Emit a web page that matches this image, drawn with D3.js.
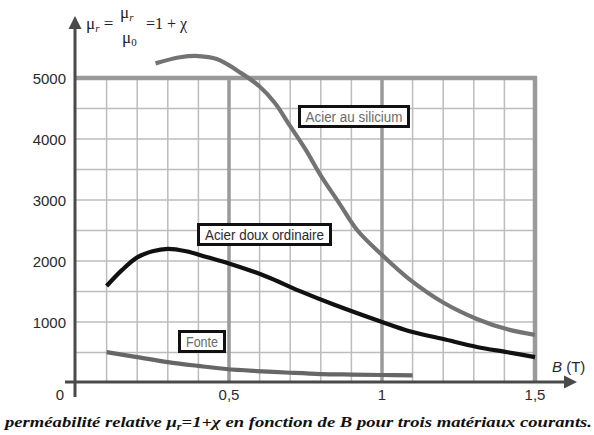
<!DOCTYPE html>
<html>
<head>
<meta charset="utf-8">
<script src="https://cdn.jsdelivr.net/npm/d3@7"></script>
<style>
  body { margin: 0; background: #fff; }
  svg { display: block; }
</style>
</head>
<body>
<div id="chartplot"></div>
<script>
// values (B in tesla, mu_r)
var siliciumB  = [0.26, 0.34, 0.40, 0.46, 0.54, 0.60, 0.65, 0.70, 0.75, 0.80, 0.86, 0.92, 1.00, 1.09, 1.20, 1.31, 1.41, 1.50];
var siliciumMu = [5240, 5340, 5360, 5310, 5080, 4860, 4590, 4210, 3830, 3400, 2950, 2500, 2100, 1700, 1320, 1050, 880, 790];

var douxB  = [0.10, 0.15, 0.20, 0.25, 0.30, 0.36, 0.43, 0.50, 0.62, 0.73, 0.84, 1.00, 1.09, 1.20, 1.31, 1.41, 1.50];
var douxMu = [1590, 1850, 2060, 2160, 2200, 2160, 2060, 1960, 1750, 1510, 1290, 1000, 850, 720, 590, 505, 425];

var fonteB  = [0.10, 0.20, 0.30, 0.40, 0.49, 0.59, 0.70, 0.80, 0.90, 1.00, 1.10];
var fonteMu = [506, 425, 343, 280, 230, 196, 168, 147, 138, 131, 126];

var yTicks = [1000, 2000, 3000, 4000, 5000];
var xTicks = [0.5, 1, 1.5];
var xTickLabels = ["0,5", "1", "1,5"];

var curveLabels = ["Acier au silicium", "Acier doux ordinaire", "Fonte"];

function draw(){
  var svg = d3.select("#chartplot").append("svg")
    .attr("width", 594).attr("height", 435);

  var sans = "'Liberation Sans', Arimo, Arial, sans-serif";
  var serif = "'Liberation Serif', Tinos, 'Times New Roman', serif";

  var x = d3.scaleLinear().domain([0, 1.5]).range([76, 535]);
  var y = d3.scaleLinear().domain([0, 5000]).range([383, 78]);

  var grid = svg.append("g");

  // minor verticals every 0.1 T
  var minorX = d3.range(1, 15).map(function(i){ return i / 10; })
    .filter(function(v){ return Math.abs(v - 0.5) > 1e-6 && Math.abs(v - 1) > 1e-6; });
  grid.selectAll("line.vx").data(minorX).enter().append("line")
    .attr("x1", function(d){ return x(d); }).attr("x2", function(d){ return x(d); })
    .attr("y1", y(5000)).attr("y2", y(0))
    .style("stroke", "#bcbcbc").style("stroke-width", 1.5);

  // horizontals every 500
  var minorY = d3.range(1, 10).map(function(i){ return i * 500; });
  grid.selectAll("line.hy").data(minorY).enter().append("line")
    .attr("x1", x(0)).attr("x2", x(1.5))
    .attr("y1", function(d){ return y(d); }).attr("y2", function(d){ return y(d); })
    .style("stroke", "#bcbcbc").style("stroke-width", 1.5);

  // major verticals
  grid.selectAll("line.mx").data([0.5, 1]).enter().append("line")
    .attr("x1", function(d){ return x(d); }).attr("x2", function(d){ return x(d); })
    .attr("y1", y(5000)).attr("y2", y(0))
    .style("stroke", "#9a9a9a").style("stroke-width", 3.5);

  // frame top + right
  grid.append("line")
    .attr("x1", x(0)).attr("x2", x(1.5) + 2)
    .attr("y1", y(5000)).attr("y2", y(5000))
    .style("stroke", "#9a9a9a").style("stroke-width", 4.5);
  grid.append("line")
    .attr("x1", x(1.5)).attr("x2", x(1.5))
    .attr("y1", y(5000) - 2).attr("y2", y(0))
    .style("stroke", "#9a9a9a").style("stroke-width", 4.5);

  // curves
  var line = d3.line()
    .x(function(d){ return x(d[0]); })
    .y(function(d){ return y(d[1]); })
    .curve(d3.curveCatmullRom.alpha(0.5));

  var series = [
    {b: siliciumB, mu: siliciumMu, color: "#737373"},
    {b: douxB, mu: douxMu, color: "#111"},
    {b: fonteB, mu: fonteMu, color: "#666"}
  ];
  series.forEach(function(s){
    svg.append("path")
      .datum(d3.zip(s.b, s.mu))
      .attr("d", line)
      .style("fill", "none")
      .style("stroke", s.color)
      .style("stroke-width", 4.2)
      .style("stroke-linejoin", "round");
  });

  // axes
  svg.append("line")
    .attr("x1", 75).attr("x2", 75).attr("y1", 397).attr("y2", 26)
    .style("stroke", "#4a4a4a").style("stroke-width", 3);
  svg.append("path")
    .attr("d", "M75,16 L81.5,29 L68.5,29 Z")
    .style("fill", "#4a4a4a");
  svg.append("line")
    .attr("x1", 65).attr("x2", 566).attr("y1", 382).attr("y2", 382)
    .style("stroke", "#4a4a4a").style("stroke-width", 3);
  svg.append("path")
    .attr("d", "M577,382 L564,375.5 L564,388.5 Z")
    .style("fill", "#4a4a4a");

  // y tick labels
  svg.selectAll("text.yt").data(yTicks).enter().append("text")
    .attr("x", 66).attr("y", function(d){ return y(d) + 5.5; })
    .attr("text-anchor", "end")
    .style("font-family", sans)
    .style("font-size", "15px").style("fill", "#2a2a2a")
    .text(function(d){ return d; });

  // x tick labels
  svg.selectAll("text.xt").data(xTicks).enter().append("text")
    .attr("x", function(d){ return x(d); }).attr("y", 400)
    .attr("text-anchor", "middle")
    .style("font-family", sans)
    .style("font-size", "15px").style("fill", "#2a2a2a")
    .text(function(d, i){ return xTickLabels[i]; });
  svg.append("text")
    .attr("x", 64).attr("y", 400).attr("text-anchor", "end")
    .style("font-family", sans)
    .style("font-size", "15px").style("fill", "#2a2a2a")
    .text("0");

  // B (T)
  var bt = svg.append("text")
    .attr("x", 552).attr("y", 372)
    .style("font-family", sans)
    .style("font-size", "15px").style("fill", "#2a2a2a");
  bt.append("tspan").style("font-style", "italic").text("B");
  bt.append("tspan").text(" (T)");

  // formula at the top of the y axis
  var f1 = svg.append("text").attr("x", 86).attr("y", 29)
    .style("font-family", serif).style("font-size", "17px").style("fill", "#222");
  f1.append("tspan").text("\u03bc");
  f1.append("tspan").attr("dy", 3).style("font-size", "11px").style("font-style", "italic").text("r");
  f1.append("tspan").attr("dy", -3).text(" =");
  var f2 = svg.append("text").attr("x", 120).attr("y", 18)
    .style("font-family", serif).style("font-size", "17px").style("fill", "#222");
  f2.append("tspan").text("\u03bc");
  f2.append("tspan").attr("dy", 3).style("font-size", "11px").style("font-style", "italic").text("r");
  var f3 = svg.append("text").attr("x", 122).attr("y", 43)
    .style("font-family", serif).style("font-size", "17px").style("fill", "#222");
  f3.append("tspan").text("\u03bc");
  f3.append("tspan").attr("dy", 3).style("font-size", "11px").text("0");
  svg.append("text").attr("x", 146).attr("y", 29)
    .style("font-family", serif).style("font-size", "16px").style("fill", "#222")
    .text("=1 + \u03c7");

  // boxed curve labels
  var boxes = [
    {x: 298, y: 105, w: 112, h: 23, tw: 97, color: "#6a6a6a"},
    {x: 197, y: 223, w: 135, h: 23, tw: 119, color: "#2a2a2a"},
    {x: 178, y: 330, w: 48, h: 23, tw: 32, color: "#6a6a6a"}
  ];
  boxes.forEach(function(b, i){
    svg.append("rect")
      .attr("x", b.x + 1.5).attr("y", b.y + 1.5)
      .attr("width", b.w - 3).attr("height", b.h - 3)
      .style("fill", "#fff").style("stroke", "#111").style("stroke-width", 3);
    svg.append("text")
      .attr("x", b.x + (b.w - b.tw) / 2).attr("y", b.y + 17)
      .attr("textLength", b.tw).attr("lengthAdjust", "spacingAndGlyphs")
      .style("font-family", sans)
      .style("font-size", "15.5px").style("fill", b.color)
      .text(curveLabels[i]);
  });

  // caption
  var cap = svg.append("text").attr("x", 5).attr("y", 427)
    .attr("textLength", 587).attr("lengthAdjust", "spacingAndGlyphs")
    .style("font-family", serif).style("font-size", "15.5px")
    .style("font-weight", "bold").style("font-style", "italic").style("fill", "#111");
  cap.append("tspan").text("perméabilité relative \u03bc");
  cap.append("tspan").attr("dy", 3).style("font-size", "10px").text("r");
  cap.append("tspan").attr("dy", -3).text("=1+\u03c7 en fonction de B pour trois matériaux courants.");
}

draw();
</script>
</body>
</html>
